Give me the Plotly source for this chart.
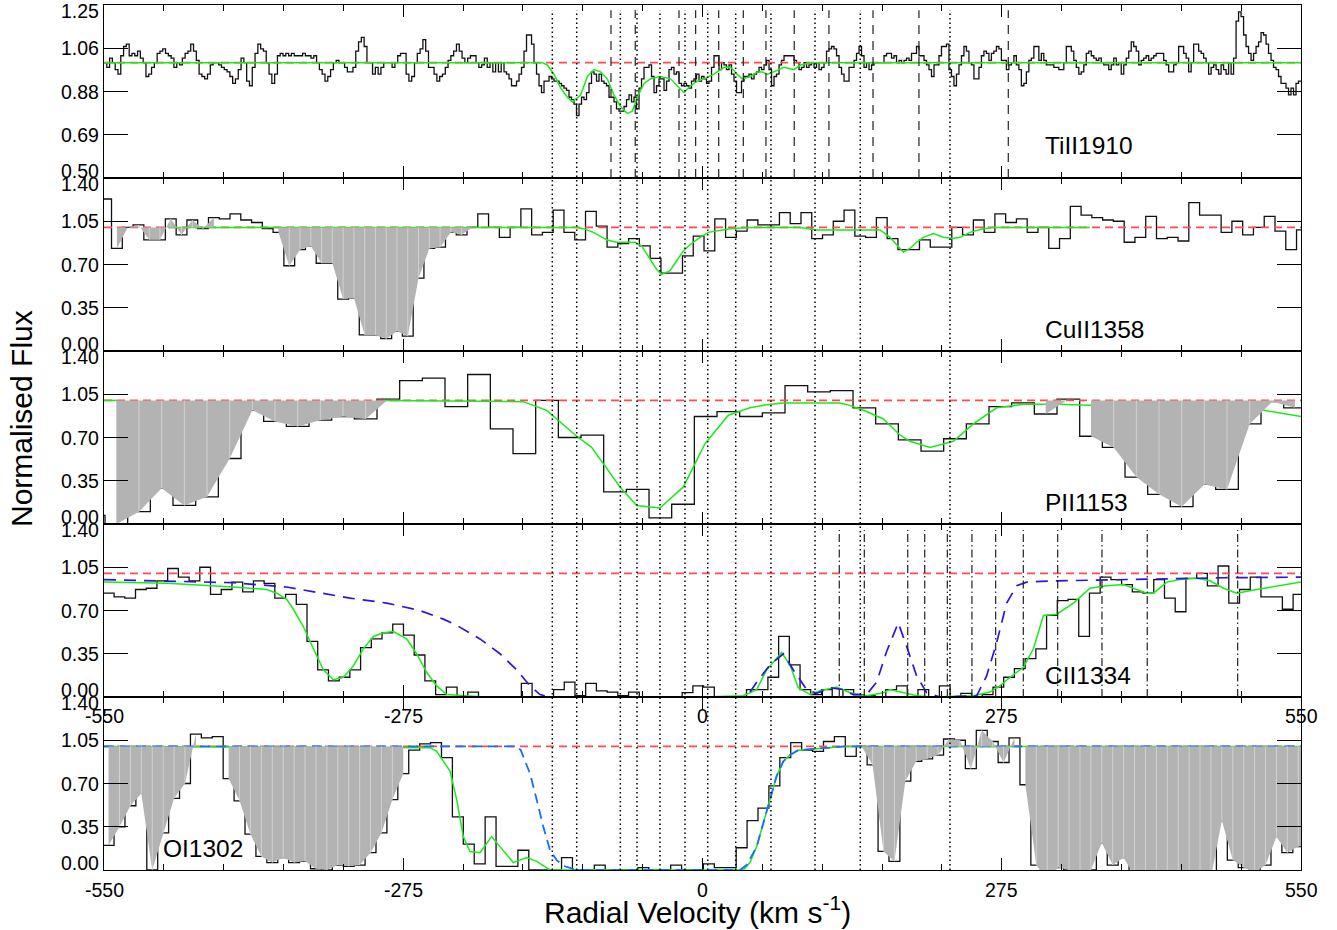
import numpy as np
import plotly.graph_objects as go

# ------------------------------------------------------------------ data
x_tick_vals = [-550, -275, 0, 275, 550]
x_tick_text = ["-550", "-275", "0", "275", "550"]
ti_tick_vals = [0.5, 0.6875, 0.875, 1.0625, 1.25]
ti_tick_text = ["0.50", "0.69", "0.88", "1.06", "1.25"]
flux_tick_vals = [0.0, 0.35, 0.70, 1.05, 1.40]
flux_tick_text = ["0.00", "0.35", "0.70", "1.05", "1.40"]
panel_labels = ["TiII1910", "CuII1358", "PII1153", "CII1334", "OI1302"]

# --- TiII 1910 (fine sampling, three consecutive velocity spans)
ti_span_a = [-550.0, -182.4]
ti_flux_a = [1.00, 0.98, 1.02, 1.00, 0.97, 0.95, 1.03, 1.07, 1.08, 1.03, 1.04, 1.03, 1.05, 1.02, 1.00,
             0.94, 0.95, 0.98, 1.00, 1.04, 1.05, 1.06, 1.04, 1.03, 1.02, 0.98, 1.00, 0.99, 1.02, 1.04,
             1.05, 1.08, 1.05, 1.01, 0.95, 0.94, 0.93, 0.95, 0.99, 1.00, 1.00, 0.99, 0.98, 0.97, 0.96,
             0.94, 0.91, 0.93, 0.97, 1.02, 1.00, 0.92, 0.90, 0.98, 1.04, 1.08, 1.06, 1.05, 1.00, 0.95,
             0.91, 0.95, 1.03, 1.04, 1.03, 1.04, 1.03, 1.04, 1.03, 1.03, 1.03, 1.04, 1.03, 1.03, 1.02,
             1.03, 1.00, 0.97, 0.95, 0.92, 0.94, 0.97, 1.00, 1.01, 1.00, 1.00, 0.98, 0.96, 0.96, 0.98,
             1.05, 1.09, 1.11, 1.07, 1.00, 1.00, 0.95, 0.98, 0.95, 0.98, 1.00, 1.00, 1.00, 0.98, 1.00,
             1.03, 1.04, 1.04, 0.95, 0.92, 0.94, 1.00, 1.04, 1.06, 1.10, 1.05, 0.98, 0.98, 0.95, 0.92,
             0.94, 0.95, 0.98, 1.01, 1.03, 1.05, 1.08, 1.05, 1.02, 1.00, 1.02, 1.03, 1.03, 1.00, 0.98,
             0.99, 1.02, 0.98, 1.00, 0.96, 1.00, 0.96, 1.00]
ti_span_b = [-182.4, 185.2]
ti_flux_b = [0.96, 0.95, 0.93, 0.90, 0.90, 0.92, 0.95, 0.98, 1.05, 1.12, 1.12, 1.08, 1.00, 0.95, 0.90,
             0.87, 0.92, 0.92, 0.94, 0.93, 0.92, 0.92, 0.91, 0.90, 0.89, 0.88, 0.85, 0.84, 0.82, 0.77,
             0.82, 0.85, 0.84, 0.87, 0.91, 0.96, 0.95, 0.92, 0.95, 0.92, 0.91, 0.90, 0.85, 0.85, 0.83,
             0.80, 0.79, 0.79, 0.81, 0.84, 0.86, 0.83, 0.85, 0.80, 0.89, 0.93, 0.98, 0.98, 0.99, 0.94,
             0.87, 0.90, 0.93, 0.93, 0.88, 0.92, 0.97, 0.98, 0.95, 0.96, 0.91, 0.90, 0.91, 0.90, 0.89,
             0.92, 0.93, 0.95, 0.92, 0.94, 0.93, 0.91, 0.92, 0.98, 1.03, 1.03, 0.97, 1.00, 0.99, 0.97,
             0.99, 0.95, 0.92, 0.87, 0.87, 0.92, 0.94, 0.94, 0.95, 0.93, 0.95, 0.96, 0.98, 0.97, 0.99,
             1.01, 0.97, 0.90, 0.94, 0.95, 0.99, 1.01, 1.03, 1.03, 1.03, 1.03, 1.01, 1.00, 0.97, 0.98,
             1.00, 0.98, 0.99, 1.00, 0.98, 1.00, 0.97, 0.98, 1.00, 1.05, 1.06, 1.07, 1.06, 1.03, 0.98,
             0.95, 0.92, 0.92, 0.98, 0.98, 1.01, 1.04, 1.07, 1.03, 0.98, 1.00, 0.97, 0.99, 1.00, 1.00,
             1.00, 1.00, 1.03, 1.04, 1.04, 1.02, 1.03, 1.00, 1.01, 1.00]
ti_span_c = [185.2, 550.0]
ti_flux_c = [1.01, 1.02, 1.01, 1.04, 1.04, 1.07, 1.03, 1.03, 1.01, 0.99, 0.97, 0.94, 0.99, 0.99, 1.03,
             1.07, 1.07, 1.08, 0.97, 0.94, 0.90, 0.95, 0.99, 1.03, 1.07, 1.05, 1.00, 0.99, 0.93, 0.93,
             0.98, 1.03, 1.05, 1.04, 1.01, 1.04, 1.05, 1.07, 1.06, 1.01, 1.01, 0.97, 0.99, 1.00, 1.03,
             0.99, 0.97, 0.90, 0.91, 0.96, 1.01, 1.02, 1.07, 1.07, 1.01, 1.04, 1.01, 0.99, 0.99, 0.99,
             0.98, 0.98, 0.97, 0.97, 1.00, 1.07, 1.07, 1.05, 1.01, 0.98, 0.95, 0.96, 0.99, 1.04, 1.05,
             1.03, 1.02, 1.01, 1.02, 1.00, 0.99, 0.99, 0.97, 0.99, 1.02, 0.99, 1.00, 0.95, 0.99, 1.02,
             1.05, 1.09, 1.07, 1.05, 0.99, 1.01, 1.02, 1.03, 1.01, 1.02, 1.03, 1.04, 1.04, 1.04, 1.01,
             0.99, 0.96, 0.96, 0.99, 1.00, 1.07, 1.07, 1.04, 1.02, 0.96, 1.00, 1.08, 1.08, 1.05, 1.04,
             1.02, 1.00, 0.95, 0.98, 0.99, 0.97, 0.95, 0.99, 0.97, 0.95, 1.00, 0.95, 1.02, 1.18, 1.22,
             1.20, 1.12, 1.07, 1.04, 1.01, 1.04, 1.07, 1.09, 1.13, 1.12, 1.08, 1.04, 1.01, 0.98, 0.97,
             0.94, 0.91, 0.91, 0.89, 0.86, 0.89, 0.86, 0.91, 0.92]
ti_model_v = [-550, -147.2, -142.6, -136.5, -130.3, -124.2, -119.6, -112.0, -105.8, -99.7, -93.6,
              -87.5, -81.4, -75.3, -69.1, -64.5, -59.9, -53.8, -47.7, -38.5, -29.3, -23.2, -17.1,
              -10.9, -4.8, 1.3, 10.5, 19.7, 25.8, 31.9, 36.5, 44.2, 50.3, 54.9, 59.5, 65.6, 74.8,
              84.0, 90.1, 99.3, 550]
ti_model_f = [1.0, 1.0, 0.99, 0.95, 0.89, 0.85, 0.83, 0.86, 0.94, 0.97, 0.96, 0.93, 0.86, 0.81, 0.78,
              0.79, 0.85, 0.91, 0.93, 0.94, 0.93, 0.90, 0.87, 0.90, 0.92, 0.93, 0.95, 0.98, 0.98, 0.95,
              0.93, 0.94, 0.96, 0.96, 0.95, 0.96, 0.98, 0.97, 0.99, 1.0, 1.0]

# --- CuII 1358
cu_start, cu_step = -553.0, 9.9
cu_flux = [1.23, 0.83, 1.00, 1.02, 0.90, 0.90, 1.07, 0.94, 1.06, 0.99, 1.08, 1.07, 1.11, 1.06, 1.04,
           0.99, 0.96, 0.69, 0.82, 0.85, 0.71, 0.71, 0.42, 0.43, 0.13, 0.13, 0.10, 0.16, 0.12, 0.59,
           0.83, 0.84, 0.96, 0.94, 1.00, 1.11, 1.00, 0.92, 1.00, 1.15, 0.94, 0.96, 1.14, 0.96, 0.90,
           1.13, 1.01, 0.84, 0.87, 0.91, 0.85, 0.75, 0.63, 0.63, 0.77, 0.93, 0.81, 1.07, 0.92, 0.97,
           1.06, 1.02, 1.02, 1.12, 1.03, 1.12, 0.91, 0.94, 1.05, 1.14, 0.93, 0.92, 1.08, 0.91, 0.82,
           0.82, 0.90, 0.84, 0.84, 1.00, 0.94, 1.06, 0.96, 1.11, 1.04, 1.07, 0.96, 1.00, 0.83, 0.91,
           1.17, 1.10, 1.08, 1.06, 1.05, 0.88, 0.92, 1.09, 0.91, 0.92, 0.89, 1.20, 1.10, 1.10, 0.96,
           1.05, 0.94, 1.00, 1.09, 0.97, 0.82, 0.98]
cu_masks = [(1, 10), (16, 34)]
cu_model_v = [-491, -120, -115.6, -109.5, -100.3, -88.1, -78.9, -69.7, -62.0, -55.9, -48.3, -42.1,
              -37.5, -29.9, -23.7, -17.6, -11.5, -3.8, 5.3, 13.0, 25.3, 43.6, 89.6, 104.9, 163.1,
              172.3, 178.4, 184.5, 190.6, 196.8, 202.9, 212.1, 221.3, 230.5, 236.6, 245.8, 258.0,
              267.2, 356.0]
cu_model_f = [1.0, 1.0, 1.0, 0.99, 0.96, 0.90, 0.88, 0.88, 0.88, 0.85, 0.75, 0.66, 0.62, 0.65, 0.73,
              0.81, 0.86, 0.91, 0.96, 0.97, 0.99, 1.0, 1.0, 0.98, 0.98, 0.92, 0.86, 0.80, 0.83, 0.88,
              0.92, 0.95, 0.92, 0.91, 0.92, 0.96, 0.99, 1.0, 1.0]

# --- PII 1153
p_start, p_step = -569.9, 20.83
p_flux = [0.07, 0.00, 0.10, 0.29, 0.15, 0.22, 0.53, 0.92, 0.83, 0.79, 0.84, 0.87, 0.85, 1.01, 1.16,
          1.18, 0.95, 1.21, 0.77, 0.57, 1.00, 0.70, 0.72, 0.26, 0.28, 0.05, 0.16, 0.87, 0.91, 0.87,
          0.90, 1.12, 1.07, 1.08, 0.94, 0.81, 0.68, 0.59, 0.69, 0.81, 0.95, 0.98, 0.89, 1.01, 0.71,
          0.62, 0.38, 0.24, 0.14, 0.32, 0.28, 0.81, 0.99, 0.94]
p_masks = [(1, 13), (42, 43), (44, 53)]
p_model_v = [-550, -538, -537, -293, -164.7, -143.2, -115.6, -101.9, -91.1, -75.8, -60.5, -39.1,
             -17.6, 2.3, 23.7, 43.6, 62.0, 74.3, 104.9, 126.4, 135.5, 150.8, 166.2, 181.5, 190.6,
             209.0, 230.5, 248.9, 270.3, 294.9, 325.5, 356.1, 509.3, 550]
p_model_f = [1.0, 1.0, None, 1.0, 0.99, 0.92, 0.71, 0.62, 0.49, 0.30, 0.15, 0.13, 0.30, 0.65, 0.88,
             0.94, 0.97, 0.98, 0.98, 0.98, 0.96, 0.91, 0.85, 0.72, 0.67, 0.62, 0.67, 0.81, 0.94, 0.97,
             0.97, 0.96, 0.93, 0.87]

# --- CII 1334
c_start, c_step = -550.6, 9.85
c_flux = [0.84, 0.81, 0.80, 0.87, 0.88, 0.94, 1.04, 0.97, 0.94, 1.05, 0.83, 0.87, 0.93, 0.85, 0.94,
          0.92, 0.80, 0.83, 0.75, 0.45, 0.22, 0.13, 0.16, 0.22, 0.40, 0.47, 0.52, 0.59, 0.50, 0.34,
          0.13, 0.02, 0.08, 0.00, 0.04, 0.00, 0.00, 0.00, 0.00, 0.11, 0.00, 0.00, 0.06, 0.12, 0.01,
          0.11, 0.05, 0.04, 0.01, 0.04, 0.00, 0.00, 0.00, 0.00, 0.035, 0.09, 0.08, 0.00, 0.00, 0.00,
          0.06, 0.06, 0.16, 0.49, 0.26, 0.06, 0.02, 0.06, 0.00, 0.06, 0.02, 0.01, 0.00, 0.06, 0.09,
          0.00, 0.06, 0.00, 0.09, 0.00, 0.03, 0.00, 0.02, 0.08, 0.16, 0.23, 0.31, 0.39, 0.66, 0.78,
          0.79, 0.49, 0.84, 0.97, 0.95, 0.91, 0.85, 0.84, 0.95, 0.80, 0.69, 0.96, 1.00, 0.90, 1.06,
          0.76, 0.87, 0.97, 0.81, 0.81, 0.71, 0.83]
c_model_v = [-550, -492.4, -431.2, -400.5, -391.3, -382.1, -376.0, -366.8, -357.6, -348.4, -339.2,
             -330.0, -320.9, -311.7, -302.5, -293.3, -284.1, -271.9, -262.7, -253.5, -244.3, -235.1,
             -200, -150, -100, 0, 37.5, 49.8, 59.0, 72.7, 80.4, 88.0, 98.8, 108.0, 123.3, 135.5,
             150.8, 166.2, 172.3, 184.5, 196.8, 212.1, 248.9, 264.2, 273.4, 282.6, 294.9, 304.1,
             313.3, 325.5, 340.8, 356.1, 371.5, 386.8, 399.1, 408.3, 414.4, 426.7, 438.9, 454.2,
             466.5, 478.8, 491.0, 509.3, 550]
c_model_f = [0.93, 0.92, 0.89, 0.87, 0.84, 0.79, 0.71, 0.57, 0.39, 0.22, 0.14, 0.16, 0.25, 0.39, 0.49,
             0.52, 0.53, 0.47, 0.35, 0.20, 0.09, 0.02, 0.0, 0.0, 0.0, 0.0, 0.01, 0.06, 0.22, 0.36,
             0.26, 0.075, 0.02, 0.05, 0.08, 0.035, 0.01, 0.035, 0.06, 0.035, 0.01, 0.0, 0.01, 0.04,
             0.09, 0.16, 0.24, 0.39, 0.66, 0.67, 0.76, 0.88, 0.90, 0.91, 0.87, 0.84, 0.84, 0.93, 0.95,
             0.96, 0.94, 0.88, 0.84, 0.87, 0.93]
c_blue_v = [-550, -492.4, -431.2, -382.1, -354.5, -323.9, -290.2, -259.6, -238.2, -225.9, -204.5,
            -186.1, -170.8, -158.5, -149.3, -140.1, 40.6, 49.8, 62.0, 74.3, 83.4, 95.7, 104.9, 117.2,
            129.4, 138.6, 150.8, 160.0, 169.3, 179.9, 187.6, 196.8, 206.0, 218.2, 252.0, 261.1,
            270.3, 279.5, 288.7, 297.9, 325.5, 386.8, 478.8, 550]
c_blue_f = [0.95, 0.94, 0.925, 0.89, 0.85, 0.80, 0.76, 0.70, 0.63, 0.58, 0.47, 0.35, 0.22, 0.09, 0.02,
            0.0, 0.0, 0.12, 0.26, 0.35, 0.22, 0.06, 0.03, 0.075, 0.06, 0.02, 0.02, 0.12, 0.37, 0.60,
            0.41, 0.17, 0.035, 0.0, 0.01, 0.17, 0.44, 0.76, 0.90, 0.93, 0.94, 0.95, 0.965, 0.97]

# --- OI 1302
o_start, o_step = -550.8, 10.03
o_flux = [0.20, 0.35, 0.52, 0.62, 0.00, 0.30, 0.58, 0.70, 1.10, 1.07, 1.08, 0.74, 0.56, 0.29, 0.11,
          0.06, 0.10, 0.06, 0.07, 0.01, 0.00, 0.04, 0.03, 0.04, 0.14, 0.30, 0.57, 0.78, 0.97, 1.02,
          1.03, 0.91, 0.43, 0.21, 0.05, 0.43, 0.03, 0.03, 0.16, 0.00, 0.00, 0.00, 0.10, 0.00, 0.00,
          0.04, 0.00, 0.00, 0.00, 0.02, 0.00, 0.00, 0.04, 0.00, 0.00, 0.05, 0.02, 0.02, 0.18, 0.40,
          0.50, 0.68, 0.91, 1.03, 0.97, 0.96, 1.04, 1.08, 0.92, 1.00, 0.85, 0.15, 0.07, 0.72, 0.88,
          0.90, 0.93, 1.06, 1.05, 0.82, 1.13, 1.04, 0.87, 1.07, 0.69, 0.04, -0.09, 0.02, 0.00, 0.00,
          0.00, 0.22, 0.04, 0.10, -0.05, 0.00, 0.00, 0.00, 0.00, -0.12, 0.00, -0.06, 0.40, 0.08, 0.02,
          -0.02, 0.04, 0.27, 0.14, 0.19, 0.20]
o_masks = [(0, 8), (11, 27), (69, 83), (84, 110)]
o_model_v = [-550, -256, -250.4, -244.3, -238.2, -232.0, -225.9, -219.8, -213.7, -204.5, -193.8,
             -186.1, -173.9, -161.6, -152.4, -140.1, 37.5, 43.6, 49.8, 55.9, 62.0, 68.1, 74.3, 80.4,
             88.0, 104.9, 130, 550]
o_model_f = [1.0, 0.99, 0.99, 0.96, 0.88, 0.80, 0.57, 0.27, 0.15, 0.14, 0.27, 0.19, 0.06, 0.10, 0.07,
             0.0, 0.0, 0.06, 0.19, 0.38, 0.57, 0.76, 0.88, 0.93, 0.97, 0.98, 1.0, 1.0]
o_blue_v = [-550, -170.8, -167.0, -164.7, -158.5, -152.4, -146.3, -140.1, -134.0, -126.3, -115.6,
            34.4, 40.6, 49.8, 55.9, 62.0, 68.1, 74.3, 80.4, 88.0, 104.9, 130, 550]
o_blue_f = [1.0, 1.0, 0.97, 0.92, 0.78, 0.57, 0.35, 0.16, 0.08, 0.03, 0.0, 0.0, 0.04, 0.19, 0.38,
            0.57, 0.76, 0.88, 0.93, 0.97, 0.98, 1.0, 1.0]

# component markers (km/s)
dotted_v = [-138.0, -115.6, -75.5, -60.2, -39.1, -16.1, 4.8, 30.5, 62.9, 103.4, 145.0, 227.4]
ti_dashed_v = [-84.1, -61.8, -21.6, -6.3, 14.9, 37.5, 58.3, 84.3, 116.2, 156.7, 198.9, 281.0]
c_dashdot_v = [125.7, 148.7, 188.6, 204.2, 225.0, 247.6, 269.4, 294.8, 326.4, 367.1, 408.7, 491.8]

# ------------------------------------------------------------------ styles
FONT = "Liberation Sans, Arial, Helvetica, sans-serif"
BLACK = "#111111"
GREEN = "rgb(25,235,25)"
RED = "rgb(255,75,75)"
BLUE4 = "rgb(45,20,225)"
BLUE5 = "rgb(20,110,255)"
GRAY = "#b3b3b3"
SEAM = "#d9d9d9"

fig = go.Figure()


def axes(i):
    return ("x" if i == 1 else f"x{i}"), ("y" if i == 1 else f"y{i}")


def add(tr, i):
    xa, ya = axes(i)
    tr.update(xaxis=xa, yaxis=ya, showlegend=False, hoverinfo="skip")
    fig.add_trace(tr)


def hist_trace(edges, vals, i):
    y = list(vals) + [vals[-1]]
    add(go.Scatter(x=list(edges), y=y, mode="lines", line=dict(color=BLACK, width=1.3, shape="hv")), i)


def uniform(start, step, vals):
    edges = start + step * np.arange(len(vals) + 1)
    centers = start + step * (np.arange(len(vals)) + 0.5)
    return edges, centers


def line(v, f, color, i, dash=None, width=1.5):
    add(go.Scatter(x=v, y=f, mode="lines", connectgaps=False,
                   line=dict(color=color, width=width, dash=dash)), i)


def continuum(i):
    line([-550, 550], [1.0, 1.0], RED, i, dash="8px,5px", width=1.8)


def gray(centers, vals, masks, i):
    for i0, i1 in masks:
        cx = list(centers[i0:i1 + 1])
        cy = list(vals[i0:i1 + 1])
        add(go.Scatter(x=cx + [cx[-1], cx[0], cx[0]], y=cy + [1.0, 1.0, cy[0]], mode="lines",
                       fill="toself", fillcolor=GRAY, line=dict(width=0)), i)
        sx, sy = [], []
        for k in range(1, len(cx) - 1):
            sx += [cx[k], cx[k], None]
            sy += [cy[k], 1.0, None]
        if sx:
            add(go.Scatter(x=sx, y=sy, mode="lines", line=dict(color=SEAM, width=0.8)), i)


# panel 1: TiII
ea = np.linspace(ti_span_a[0], ti_span_a[1], len(ti_flux_a) + 1)
eb = np.linspace(ti_span_b[0], ti_span_b[1], len(ti_flux_b) + 1)
ec = np.linspace(ti_span_c[0], ti_span_c[1], len(ti_flux_c) + 1)
ti_edges = np.concatenate([ea[:-1], eb[:-1], ec])
ti_vals = ti_flux_a + ti_flux_b + ti_flux_c
hist_trace(ti_edges, ti_vals, 1)
continuum(1)
line(ti_model_v, ti_model_f, GREEN, 1)

# panel 2: CuII
e, c = uniform(cu_start, cu_step, cu_flux)
hist_trace(e, cu_flux, 2)
continuum(2)
line(cu_model_v, cu_model_f, GREEN, 2)
gray(c, cu_flux, cu_masks, 2)

# panel 3: PII
e, c = uniform(p_start, p_step, p_flux)
hist_trace(e, p_flux, 3)
continuum(3)
line(p_model_v, p_model_f, GREEN, 3)
gray(c, p_flux, p_masks, 3)

# panel 4: CII
e, c = uniform(c_start, c_step, c_flux)
hist_trace(e, c_flux, 4)
continuum(4)
line(c_model_v, c_model_f, GREEN, 4)
line(c_blue_v, c_blue_f, BLUE4, 4, dash="12px,8px", width=1.7)

# panel 5: OI
e, c = uniform(o_start, o_step, o_flux)
hist_trace(e, o_flux, 5)
continuum(5)
line(o_model_v, o_model_f, GREEN, 5)
line(o_blue_v, o_blue_f, BLUE5, 5, dash="10px,6px", width=1.8)
gray(c, o_flux, o_masks, 5)

# ------------------------------------------------------------------ layout
layout = dict(width=1337, height=930, autosize=False,
              margin=dict(l=104, r=36, t=5, b=60),
              paper_bgcolor="white", plot_bgcolor="rgba(0,0,0,0)",
              font=dict(family=FONT, color="black", size=19.5))

annotations = []
for i in range(1, 6):
    top = 1.0 - (i - 1) * 0.2
    bot = 1.0 - i * 0.2
    xkey = "xaxis" if i == 1 else f"xaxis{i}"
    ykey = "yaxis" if i == 1 else f"yaxis{i}"
    xa, ya = axes(i)
    xd = dict(domain=[0, 1], range=[-550, 550], anchor=ya, showline=True, linecolor="black",
              linewidth=1, mirror="ticks", ticks="inside", ticklen=12, tickwidth=1.2,
              tickcolor="black", tickmode="linear", tick0=-550, dtick=275,
              minor=dict(ticks="inside", ticklen=6, tickwidth=1.2, tickcolor="black",
                         tickmode="linear", tick0=-550, dtick=55),
              showticklabels=False, showgrid=False, zeroline=False)
    if i > 1:
        xd["matches"] = "x"
    if i == 1:
        tv, tt, rng = ti_tick_vals, ti_tick_text, [0.5, 1.25]
    else:
        tv, tt, rng = flux_tick_vals, flux_tick_text, [0.0, 1.4]
    yd = dict(domain=[max(bot, 0), top], range=rng, anchor=xa, showline=True, linecolor="black",
              linewidth=1, mirror="ticks", ticks="inside", ticklen=24, tickwidth=1.2,
              tickcolor="black", tickmode="array", tickvals=tv, showticklabels=False,
              showgrid=False, zeroline=False)
    layout[xkey] = xd
    layout[ykey] = yd
    # y tick labels
    for j, (v, t) in enumerate(zip(tv, tt)):
        ys = 0
        if j == 0:
            ys = 7
        elif j == len(tv) - 1:
            ys = -6
        annotations.append(dict(xref="paper", yref=ya, x=0, y=v, text=t, showarrow=False,
                                xanchor="right", yanchor="middle", xshift=-3, yshift=ys,
                                font=dict(size=19.5, family=FONT)))

# x tick labels below panel 4 and panel 5
for i, ysh in ((4, -19), (5, -20)):
    xa, ya = axes(i)
    for v, t in zip(x_tick_vals, x_tick_text):
        annotations.append(dict(xref=xa, yref="paper", x=v, y=1.0 - i * 0.2, text=t,
                                showarrow=False, xanchor="center", yanchor="middle", yshift=ysh,
                                font=dict(size=19.5, family=FONT)))

# ion labels
lab_pos = [(314.7, 0.641), (314.7, 0.174), (314.7, 0.178), (314.7, 0.176), (-495.8, 0.172)]
for i, (txt, (lx, ly)) in enumerate(zip(panel_labels, lab_pos), start=1):
    xa, ya = axes(i)
    annotations.append(dict(xref=xa, yref=ya, x=lx, y=ly, text=txt, showarrow=False,
                            xanchor="left", yanchor="middle", xshift=-2,
                            font=dict(size=24.5, family=FONT)))

annotations.append(dict(xref="paper", yref="paper", x=0.4962, y=0, yshift=-40,
                        text="Radial Velocity (km s<sup>-1</sup>)", showarrow=False,
                        xanchor="center", yanchor="middle", font=dict(size=30, family=FONT)))
annotations.append(dict(xref="paper", yref="paper", x=-0.0685, y=0.5214, textangle=-90,
                        text="Normalised Flux", showarrow=False, xanchor="center",
                        yanchor="middle", font=dict(size=30, family=FONT)))
layout["annotations"] = annotations

shapes = []
for v in dotted_v:
    shapes.append(dict(type="line", xref="x", yref="paper", x0=v, x1=v, y0=0, y1=0.994,
                       line=dict(color="black", width=1.5, dash="1.5px,3px")))
for v in ti_dashed_v:
    shapes.append(dict(type="line", xref="x", yref="paper", x0=v, x1=v, y0=0.8, y1=0.994,
                       line=dict(color="#222222", width=1.2, dash="9px,7px")))
for v in c_dashdot_v:
    shapes.append(dict(type="line", xref="x4", yref="paper", x0=v, x1=v, y0=0.2, y1=0.393,
                       line=dict(color="#222222", width=1.2, dash="8px,3px,1.5px,3px")))
layout["shapes"] = shapes

fig.update_layout(**layout)
fig.write_html("out.html", config={"displayModeBar": False},
               post_script="document.body.style.margin='0px';document.body.style.overflow='hidden';")
